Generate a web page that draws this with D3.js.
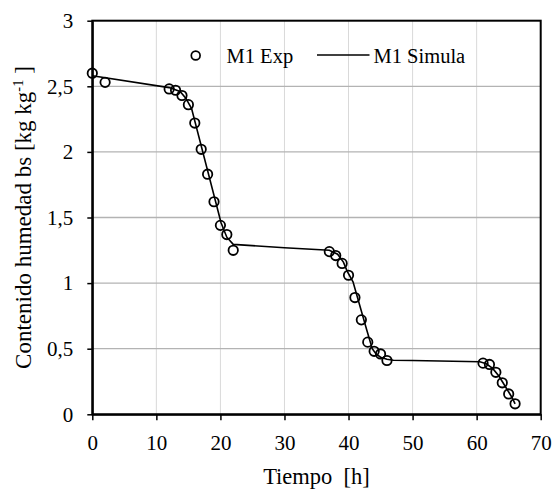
<!DOCTYPE html>
<html>
<head>
<meta charset="utf-8">
<script src="https://cdn.jsdelivr.net/npm/d3@7"></script>
<style>
  html, body { margin: 0; padding: 0; background: #fff; }
  svg { display: block; }
  svg text { font-family: "Liberation Serif", Tinos, "Times New Roman", Times, "DejaVu Serif", serif; }
</style>
</head>
<body>
<svg id="chart" width="560" height="491"></svg>
<script>
// Experimental data (M1 Exp)
const expTime = [0, 2, 12, 13, 14, 15, 16, 17, 18, 19, 20, 21, 22, 37, 38, 39, 40, 41, 42, 43, 44, 45, 46, 61, 62, 63, 64, 65, 66];
const expMoisture = [2.60, 2.53, 2.48, 2.47, 2.43, 2.36, 2.22, 2.02, 1.83, 1.62, 1.44, 1.37, 1.25, 1.24, 1.21, 1.15, 1.06, 0.89, 0.72, 0.55, 0.48, 0.46, 0.41, 0.39, 0.38, 0.32, 0.24, 0.155, 0.08];

// Simulated curve (M1 Simula)
const simTime = [0, 12, 13.7, 14.6, 15.5, 20.1, 21, 22, 30, 37, 38.3, 39.2, 39.8, 40.7, 42.8, 43.7, 44.3, 45, 46, 47, 50, 60.5, 61.5, 62.5, 63.5, 64.5, 65.5, 66];
const simMoisture = [2.58, 2.49, 2.46, 2.41, 2.33, 1.46, 1.35, 1.295, 1.27, 1.25, 1.22, 1.16, 1.09, 1.01, 0.65, 0.50, 0.46, 0.435, 0.42, 0.412, 0.41, 0.40, 0.385, 0.35, 0.29, 0.21, 0.13, 0.08];

// Axis ticks
const xTicks = [0, 10, 20, 30, 40, 50, 60, 70];
const yTicks = [0, 0.5, 1, 1.5, 2, 2.5, 3];
const yTickLabels = ["0", "0,5", "1", "1,5", "2", "2,5", "3"];

const seriesNames = ["M1 Exp", "M1 Simula"];
const xTitle = "Tiempo  [h]";

const FONT = '"Liberation Serif", Tinos, "Times New Roman", Times, "DejaVu Serif", serif';
const W = 560, H = 491;
const margin = { left: 92.3, right: 19.3, top: 20.7, bottom: 76.7 };
const iw = W - margin.left - margin.right;
const ih = H - margin.top - margin.bottom;

const svg = d3.select("#chart");
const g = svg.append("g").attr("transform", `translate(${margin.left},${margin.top})`);

const x = d3.scaleLinear().domain([0, 70]).range([0, iw]);
const y = d3.scaleLinear().domain([0, 3]).range([ih, 0]);

// Gridlines
g.append("g").selectAll("line").data(xTicks.filter(d => d > 0 && d < 70)).join("line")
  .attr("x1", d => x(d)).attr("x2", d => x(d))
  .attr("y1", 0).attr("y2", ih)
  .attr("stroke", "#d9d9d9").attr("stroke-width", 1);
g.append("g").selectAll("line").data(yTicks.filter(d => d > 0 && d < 3)).join("line")
  .attr("x1", 0).attr("x2", iw)
  .attr("y1", d => y(d)).attr("y2", d => y(d))
  .attr("stroke", "#b3b3b3").attr("stroke-width", 1.3);

// Frame
g.append("rect").attr("x", 0).attr("y", 0).attr("width", iw).attr("height", ih)
  .attr("fill", "none").attr("stroke", "#000").attr("stroke-width", 2);

// Axes
const xAxis = d3.axisBottom(x).tickValues(xTicks).tickSize(6).tickPadding(15).tickSizeOuter(0);
const yAxis = d3.axisLeft(y).tickValues(yTicks).tickSize(5).tickPadding(14).tickSizeOuter(0)
  .tickFormat((d, i) => yTickLabels[i]);

const gx = g.append("g").attr("transform", `translate(0,${ih})`).call(xAxis);
const gy = g.append("g").call(yAxis);
[gx, gy].forEach(a => {
  a.attr("font-family", null).attr("font-size", null);
  a.select(".domain").attr("stroke", "#000").attr("stroke-width", 2);
  a.selectAll(".tick line").attr("stroke", "#000").attr("stroke-width", 1.5);
  a.selectAll(".tick text").attr("fill", "#000")
    .style("font-family", FONT)
    .style("font-size", "21px");
});

// Simulated line
const simData = simTime.map((t, i) => ({ t, m: simMoisture[i] }));
g.append("path").datum(simData)
  .attr("fill", "none").attr("stroke", "#000").attr("stroke-width", 1.6)
  .attr("d", d3.line().x(d => x(d.t)).y(d => y(d.m)));

// Experimental points
const expData = expTime.map((t, i) => ({ t, m: expMoisture[i] }));
g.append("g").selectAll("circle").data(expData).join("circle")
  .attr("cx", d => x(d.t)).attr("cy", d => y(d.m)).attr("r", 4.7)
  .attr("fill", "none").attr("stroke", "#000").attr("stroke-width", 1.8);

// Legend
const leg = svg.append("g").style("font-size", "20.5px").style("font-family", FONT);
leg.append("circle").attr("cx", 195.7).attr("cy", 55.5).attr("r", 4.4)
  .attr("fill", "#fff").attr("stroke", "#000").attr("stroke-width", 1.7);
leg.append("text").attr("x", 226.5).attr("y", 62.5).text(seriesNames[0]);
leg.append("line").attr("x1", 317).attr("x2", 369.5).attr("y1", 55).attr("y2", 55)
  .attr("stroke", "#000").attr("stroke-width", 1.6);
leg.append("text").attr("x", 373.5).attr("y", 62.5).text(seriesNames[1]);

// Axis titles
svg.append("text")
  .attr("x", margin.left + iw / 2).attr("y", 484)
  .attr("text-anchor", "middle").style("font-size", "22.5px").style("font-family", FONT)
  .style("white-space", "pre").text(xTitle);

const yt = svg.append("text")
  .attr("transform", `translate(31,${margin.top + ih / 2}) rotate(-90)`)
  .attr("text-anchor", "middle").style("font-size", "23px").style("font-family", FONT);
yt.append("tspan").text("Contenido humedad bs [kg kg");
yt.append("tspan").attr("dy", "-8").style("font-size", "14.5px").text("-1");
yt.append("tspan").attr("dy", "8").text(" ]");
</script>
</body>
</html>
